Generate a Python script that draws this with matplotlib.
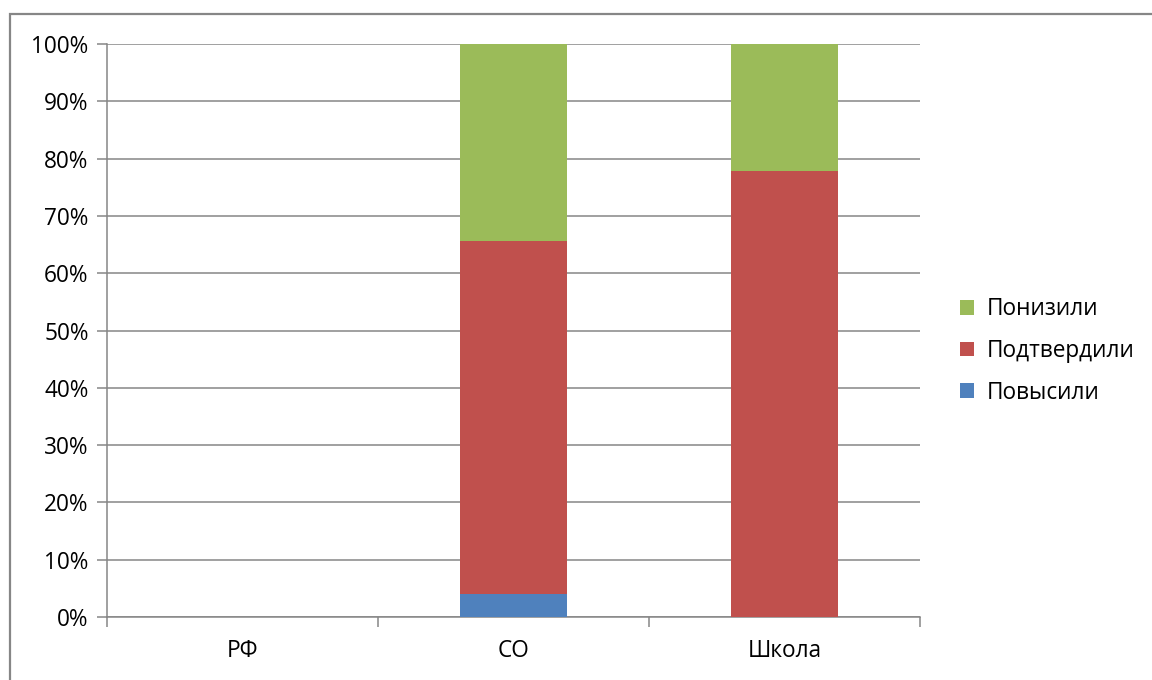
import matplotlib
matplotlib.use("Agg")
import matplotlib.pyplot as plt
from matplotlib.patches import Rectangle, Patch
from matplotlib.ticker import FuncFormatter, MultipleLocator
import numpy as np

categories = ["РФ", "СО", "Школа"]
povysili = [0.0, 4.0, 0.0]
podtverdili = [0.0, 61.6, 77.8]
ponizili = [0.0, 34.4, 22.2]
series_names = ["Повысили", "Подтвердили", "Понизили"]
colors = ["#4F81BD", "#C0504D", "#9BBB59"]

plt.rcParams['font.family'] = ['Open Sans', 'DejaVu Sans']
FS = 16.3
GRAY = "#868686"

fig = plt.figure(figsize=(11.52, 6.8), dpi=100)
fig.patch.set_facecolor("white")
ax = fig.add_axes([107/1152, 1-617/680, (920-107)/1152, (617-44)/680])

x = np.arange(len(categories))
series = [povysili, podtverdili, ponizili]
totals = np.array(povysili) + np.array(podtverdili) + np.array(ponizili)
bottom = np.zeros(len(categories))
for vals, c in zip(series, colors):
    v = np.array(vals, dtype=float)
    pct = np.where(totals > 0, v / np.where(totals > 0, totals, 1) * 100, 0)
    ax.bar(x, pct, width=0.395, bottom=bottom, color=c, zorder=3, linewidth=0)
    bottom += pct

ax.set_xlim(-0.5, 2.5)
ax.set_ylim(0, 100)
ax.yaxis.set_major_locator(MultipleLocator(10))
ax.yaxis.set_major_formatter(FuncFormatter(lambda v, p: f"{int(round(v))}%"))
ax.grid(axis='y', color=GRAY, linewidth=1.1, zorder=1)
ax.set_axisbelow(True)

ax.set_xticks(x)
ax.set_xticklabels(categories)
ax.set_xticks([-0.5, 0.5, 1.5, 2.5], minor=True)
ax.tick_params(axis='x', which='major', length=0, pad=16, labelsize=FS)
ax.tick_params(axis='x', which='minor', length=7.2, width=1.1, color=GRAY)
ax.tick_params(axis='y', length=7.2, width=1.1, color=GRAY, pad=6, labelsize=FS)

for s in ['top', 'right']:
    ax.spines[s].set_visible(False)
for s in ['left', 'bottom']:
    ax.spines[s].set_color(GRAY)
    ax.spines[s].set_linewidth(1.1)

handles = [Patch(facecolor=c, edgecolor='none') for c in colors]
leg = fig.legend(handles[::-1], series_names[::-1], loc='center left',
                 bbox_to_anchor=(940/1152, 1-351/680), frameon=False,
                 fontsize=FS, handlelength=0.62, handleheight=0.62,
                 handletextpad=0.55, labelspacing=0.78)

fig.add_artist(Rectangle((9.5/1152, -0.05), 1.2, 1 - 14/680 + 0.05,
                         transform=fig.transFigure, fill=False,
                         edgecolor=GRAY, linewidth=1.6))

fig.savefig("out.png", dpi=100, facecolor="white")
